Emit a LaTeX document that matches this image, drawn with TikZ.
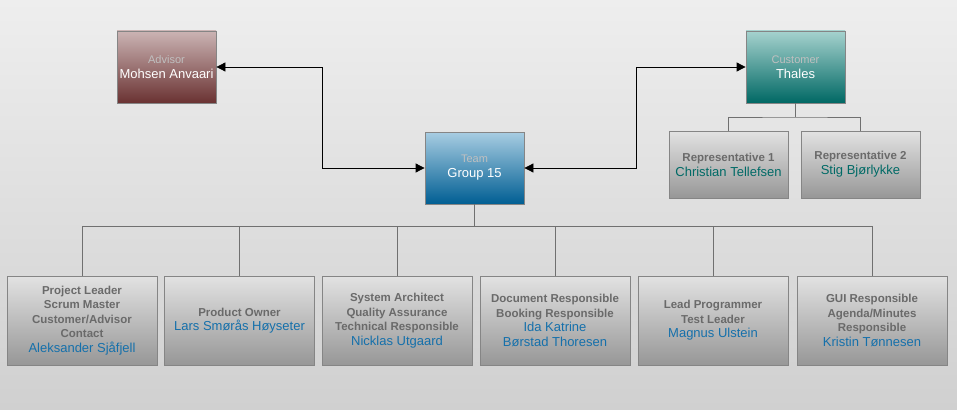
\documentclass[tikz,border=0pt]{standalone}
\usepackage{fontspec}
\setmainfont{Liberation Sans}
\usetikzlibrary{arrows.meta}
\definecolor{bgtop}{HTML}{EEEEEE}
\definecolor{bgbot}{HTML}{D0D0D0}
\definecolor{advtop}{HTML}{CBB4B4}
\definecolor{advbot}{HTML}{6A3232}
\definecolor{teamtop}{HTML}{A8CDE2}
\definecolor{teambot}{HTML}{005E93}
\definecolor{custtop}{HTML}{A6D2CE}
\definecolor{custbot}{HTML}{006864}
\definecolor{roletop}{HTML}{E2E2E2}
\definecolor{rolebot}{HTML}{979797}
\definecolor{boxline}{HTML}{858585}
\definecolor{rolegray}{HTML}{6A6A6A}
\definecolor{titlegray}{HTML}{C0C0C0}
\definecolor{nameblue}{HTML}{1570AB}
\definecolor{nameteal}{HTML}{006A66}
\definecolor{busline}{HTML}{707070}
\tikzset{
  topbox/.style={draw=boxline, line width=0.8pt, minimum width=99pt, minimum height=72pt, inner sep=0pt, align=center, font=\fontsize{11}{15}\selectfont},
  advbox/.style={topbox, top color=advtop, bottom color=advbot},
  teambox/.style={topbox, top color=teamtop, bottom color=teambot},
  custbox/.style={topbox, top color=custtop, bottom color=custbot},
  repbox/.style={draw=boxline, line width=0.8pt, minimum width=119pt, minimum height=67pt, inner sep=0pt, align=center, top color=roletop, bottom color=rolebot, font=\fontsize{11.5}{15}\selectfont},
  rolebox/.style={draw=boxline, line width=0.8pt, minimum width=150pt, minimum height=89pt, inner sep=0pt, align=center, top color=roletop, bottom color=rolebot, font=\fontsize{11.5}{14.5}\selectfont},
  bus/.style={draw=busline, line width=0.8pt},
  link/.style={draw=black, line width=0.8pt, {Triangle[length=9pt,width=9pt]}-{Triangle[length=9pt,width=9pt]}},
}
\newcommand{\ttl}[1]{{\fontsize{11}{15}\selectfont\color{titlegray}#1}}
\newcommand{\nmw}[1]{{\fontsize{13}{15}\selectfont\color{white}#1}}
\newcommand{\rl}[1]{{\fontsize{11.5}{14.5}\selectfont\bfseries\color{rolegray}#1}}
\newcommand{\nmb}[1]{{\fontsize{13}{15}\selectfont\color{nameblue}#1}}
\newcommand{\nmt}[1]{{\fontsize{13}{15}\selectfont\color{nameteal}#1}}
\begin{document}
\begin{tikzpicture}[x=1pt,y=-1pt]
\shade[top color=bgtop, bottom color=bgbot] (0,0) rectangle (957,409);
\useasboundingbox (0,0) rectangle (957,409);

\node[advbox] (adv) at (166.5,67) {\ttl{Advisor}\\\nmw{Mohsen Anvaari}};
\node[teambox] (team) at (474.5,168) {\ttl{Team}\\\nmw{Group 15}};
\node[custbox] (cust) at (795.5,67) {\ttl{Customer}\\\nmw{Thales}};

\node[repbox] (rep1) at (728.5,164.5) {\rl{Representative 1}\\\nmt{Christian Tellefsen}};
\node[repbox] (rep2) at (860.5,164.5) {\rl{Representative 2}\\\nmt{Stig Bjørlykke}};

\node[rolebox] (r1) at (82,320.5) {\rl{Project Leader}\\\rl{Scrum Master}\\\rl{Customer/Advisor}\\\rl{Contact}\\\nmb{Aleksander Sjåfjell}};
\node[rolebox] (r2) at (239.5,320.5) {\rl{Product Owner}\\\nmb{Lars Smørås Høyseter}};
\node[rolebox] (r3) at (397,320.5) {\rl{System Architect}\\\rl{Quality Assurance}\\\rl{Technical Responsible}\\\nmb{Nicklas Utgaard}};
\node[rolebox] (r4) at (555,320.5) {\rl{Document Responsible}\\\rl{Booking Responsible}\\\nmb{Ida Katrine}\\\nmb{Børstad Thoresen}};
\node[rolebox] (r5) at (713,320.5) {\rl{Lead Programmer}\\\rl{Test Leader}\\\nmb{Magnus Ulstein}};
\node[rolebox] (r6) at (872,320.5) {\rl{GUI Responsible}\\\rl{Agenda/Minutes}\\\rl{Responsible}\\\nmb{Kristin Tønnesen}};

% customer bus
\coordinate (cb) at (795.5,117);
\draw[bus] (cust.south) -- (cb);
\draw[bus] (rep1.north) |- (cb) -| (rep2.north);

% team bus
\coordinate (tb) at (474.5,226);
\draw[bus] (team.south) -- (tb);
\foreach \r in {r1,r2,r3,r4,r5,r6} {\draw[bus] (\r.north) |- (tb);}

% links
\coordinate (la) at (322,67);
\coordinate (lb) at (322,168);
\draw[link] (adv.east) -- (la) -- (lb) -- (team.west);
\coordinate (ra) at (636,168);
\coordinate (rb) at (636,67);
\draw[link] (team.east) -- (ra) -- (rb) -- (cust.west);
\end{tikzpicture}
\end{document}
